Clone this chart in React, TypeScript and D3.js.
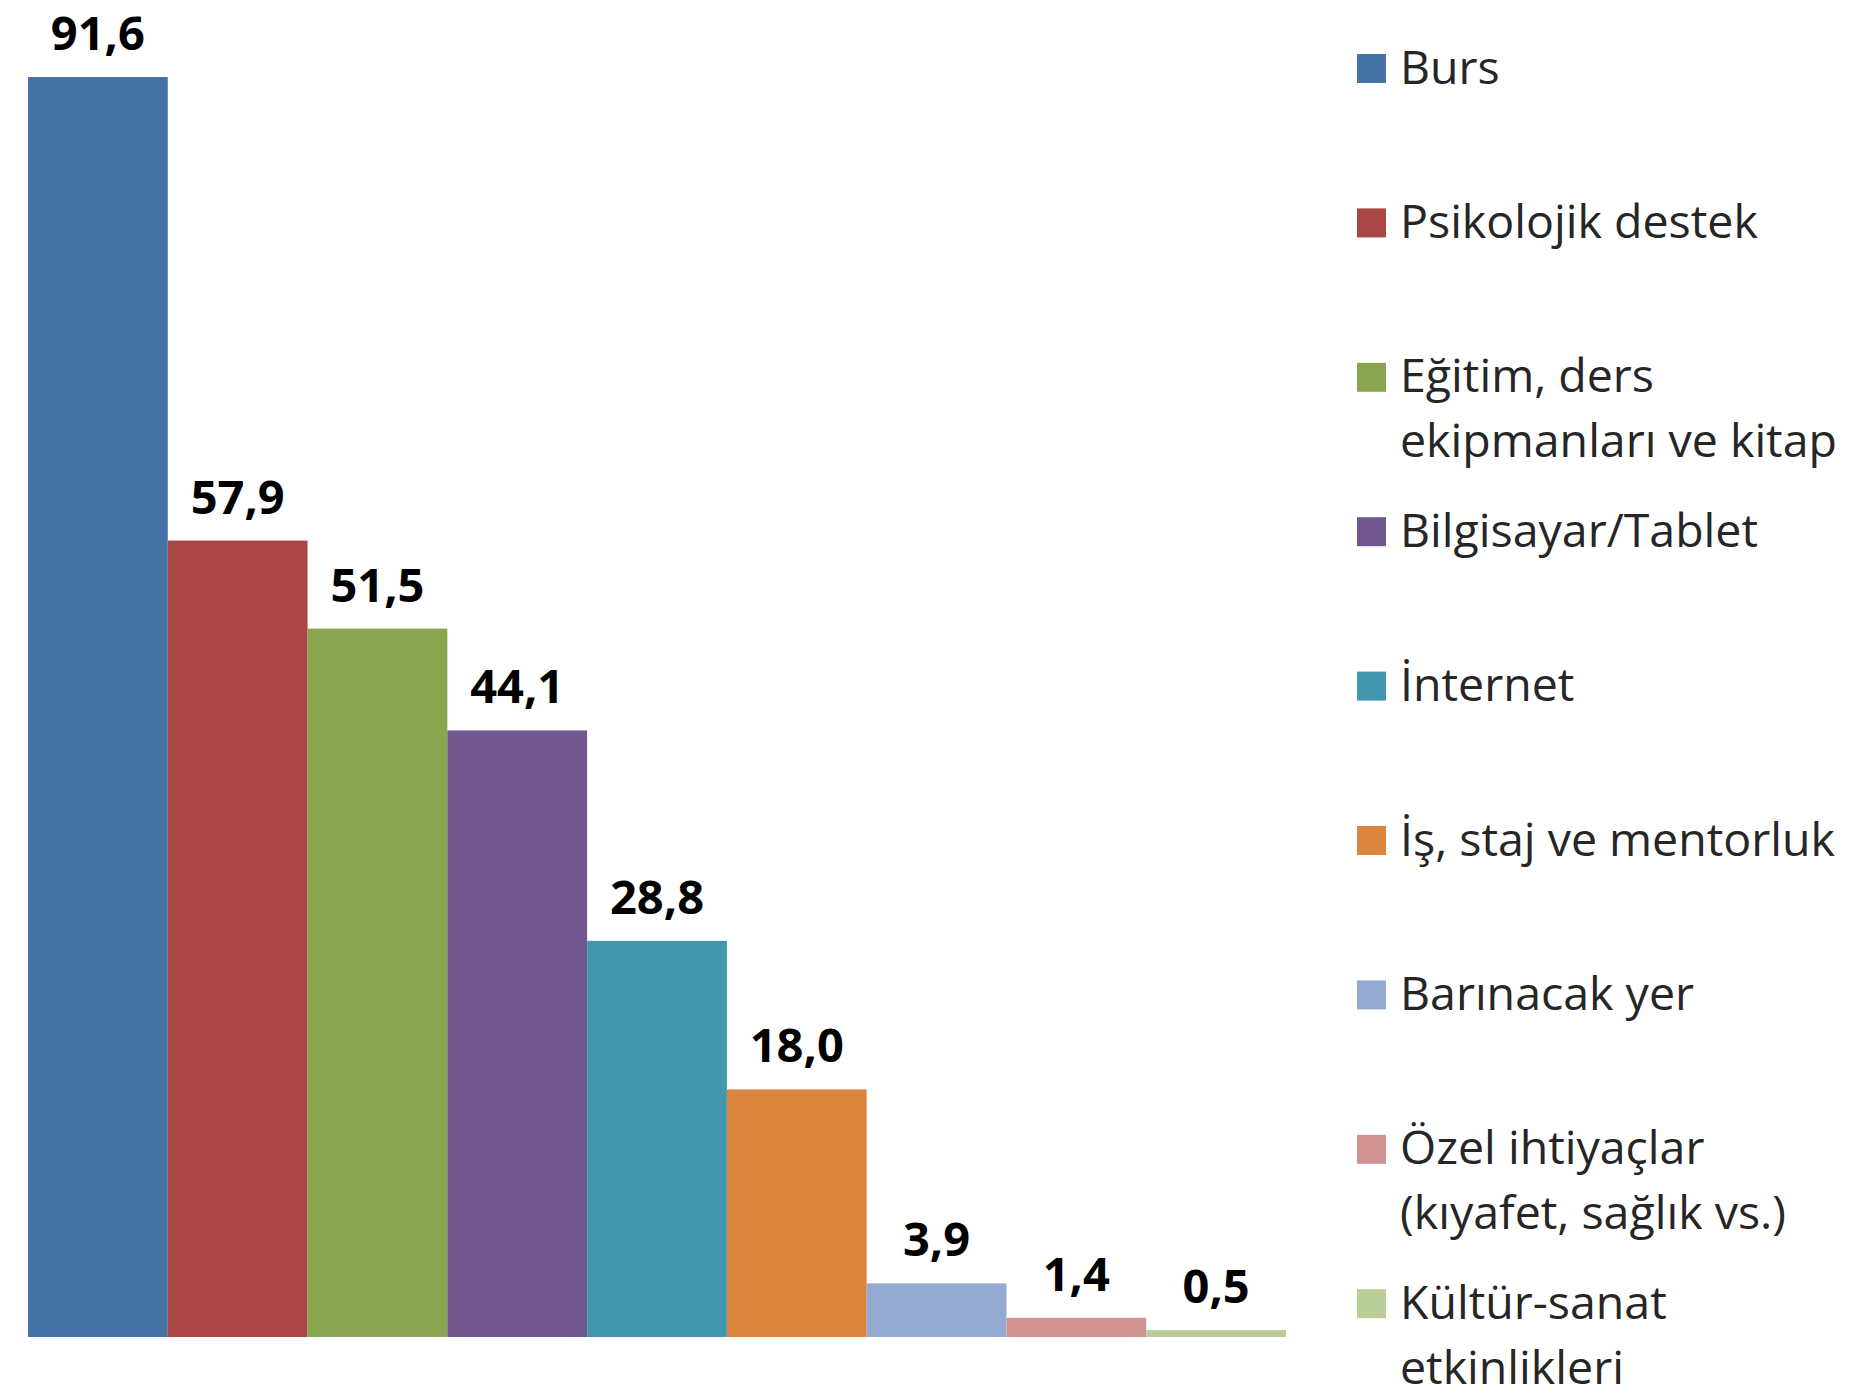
import React, { useEffect, useRef } from 'react';
import * as d3 from 'd3';

const categories = [
  'Burs',
  'Psikolojik destek',
  'Eğitim, ders ekipmanları ve kitap',
  'Bilgisayar/Tablet',
  'İnternet',
  'İş, staj ve mentorluk',
  'Barınacak yer',
  'Özel ihtiyaçlar (kıyafet, sağlık vs.)',
  'Kültür-sanat etkinlikleri',
];
const values = [91.6, 57.9, 51.5, 44.1, 28.8, 18.0, 3.9, 1.4, 0.5];
const legendLines = [
  ['Burs'],
  ['Psikolojik destek'],
  ['Eğitim, ders', 'ekipmanları ve kitap'],
  ['Bilgisayar/Tablet'],
  ['İnternet'],
  ['İş, staj ve mentorluk'],
  ['Barınacak yer'],
  ['Özel ihtiyaçlar', '(kıyafet, sağlık vs.)'],
  ['Kültür-sanat', 'etkinlikleri'],
];
const colors = [
  '#4573A7',
  '#AA4744',
  '#89A54E',
  '#71588F',
  '#4297AE',
  '#DB843D',
  '#93A9CF',
  '#D19392',
  '#B9CD96',
];

const W = 1862;
const H = 1393;
const FONT = '"Open Sans", "Noto Sans", sans-serif';

const App: React.FC = () => {
  const svgRef = useRef<SVGSVGElement>(null);

  useEffect(() => {
    if (!svgRef.current) return;
    const svg = d3.select(svgRef.current);
    svg.selectAll('*').remove();

    const x = d3.scaleBand<string>().domain(categories).range([28, 1286]).padding(0);
    const y = d3.scaleLinear().domain([0, 100]).range([1337, -38.5]);
    const color = d3.scaleOrdinal<string, string>().domain(categories).range(colors);
    const fmt = d3.formatLocale({ decimal: ',', thousands: '.', grouping: [3], currency: ['', ''] }).format('.1f');

    const data = categories.map((c, i) => ({ c, v: values[i] }));

    svg
      .append('g')
      .selectAll('rect')
      .data(data)
      .join('rect')
      .attr('x', (d) => x(d.c)!)
      .attr('y', (d) => y(d.v))
      .attr('width', x.bandwidth())
      .attr('height', (d) => y(0) - y(d.v))
      .attr('fill', (d) => color(d.c));

    // value labels above bars
    svg
      .append('g')
      .selectAll('text')
      .data(data)
      .join('text')
      .attr('x', (d) => x(d.c)! + x.bandwidth() / 2)
      .attr('y', (d) => y(d.v) - 27)
      .attr('text-anchor', 'middle')
      .attr('font-family', FONT)
      .attr('font-weight', 'bold')
      .attr('font-size', 47)
      .attr('fill', '#000')
      .text((d) => fmt(d.v));

    const ly = d3.scaleLinear().domain([0, categories.length - 1]).range([68.5, 68.5 + 8 * 154.4]);
    const legend = svg
      .append('g')
      .selectAll('g')
      .data(data)
      .join('g')
      .attr('transform', (_, i) => `translate(1357,${ly(i)})`);

    legend
      .append('rect')
      .attr('x', 0)
      .attr('y', -14.5)
      .attr('width', 29)
      .attr('height', 29)
      .attr('fill', (d) => color(d.c));

    legend.each(function (_, i) {
      const g = d3.select(this);
      legendLines[i].forEach((line, j) => {
        g.append('text')
          .attr('x', 43)
          .attr('y', 15 + j * 65)
          .attr('font-family', FONT)
          .attr('font-size', 46.5)
          .attr('fill', '#262626')
          .text(line);
      });
    });
  }, []);

  return (
    <svg
      ref={svgRef}
      width={W}
      height={H}
      style={{ position: 'absolute', left: 0, top: 0, background: '#fff' }}
    ></svg>
  );
};

export default App;
